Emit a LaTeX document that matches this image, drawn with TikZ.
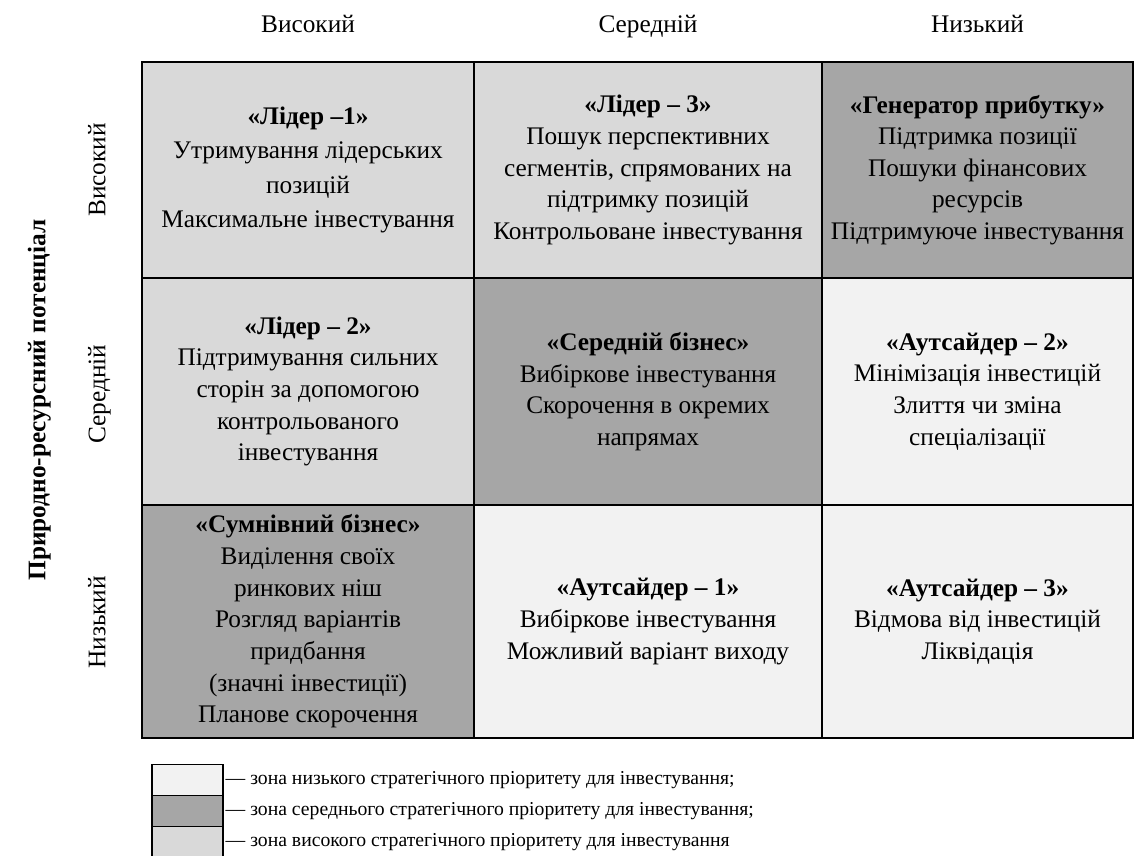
\documentclass[tikz,border=0pt]{standalone}
\usepackage{fontspec}
\setmainfont{Liberation Serif}
\usepackage{tikz}
\usetikzlibrary{positioning}
\definecolor{zonelow}{HTML}{F2F2F2}
\definecolor{zonemid}{HTML}{A6A6A6}
\definecolor{zonehigh}{HTML}{D9D9D9}
\tikzstyle{cell} =
  [rectangle, draw, line width=1.8pt, inner sep=0pt, outer sep=0pt,
   align=center, font=\fontsize{18}{22.5}\selectfont]
\tikzstyle{axis} =
  [font=\fontsize{18}{22.5}\selectfont, text height=2.2ex, text depth=0.5ex]
\tikzstyle{swatch} =
  [rectangle, draw, line width=1.2pt, inner sep=0pt, outer sep=0pt,
   minimum width=1.775cm, minimum height=0.775cm]
\tikzstyle{legtext} = [inner sep=0pt, font=\fontsize{14}{17}\selectfont]

\begin{document}
\begin{tikzpicture}
  \useasboundingbox (0,0) rectangle (28.4,21.4);

  % first row
  \node [cell, fill=zonehigh, minimum width=8.3cm, minimum height=5.4cm]
    (c11) at (7.7,17.15) {\textbf{«Лідер –1»}\\[2pt]Утримування лідерських\\[2pt]позицій\\[2pt]Максимальне інвестування};
  \node [cell, fill=zonehigh, right=0pt of c11, minimum width=8.7cm, minimum height=5.4cm]
    (c12) {\textbf{«Лідер – 3»}\\Пошук перспективних\\сегментів, спрямованих на\\підтримку позицій\\Контрольоване інвестування};
  \node [cell, fill=zonemid, right=0pt of c12, minimum width=7.775cm, minimum height=5.4cm]
    (c13) {\textbf{«Генератор прибутку»}\\Підтримка позиції\\Пошуки фінансових\\ресурсів\\Підтримуюче інвестування};

  % second row
  \node [cell, fill=zonehigh, below=0pt of c11, minimum width=8.3cm, minimum height=5.675cm]
    (c21) {\textbf{«Лідер – 2»}\\Підтримування сильних\\сторін за допомогою\\контрольованого\\інвестування};
  \node [cell, fill=zonemid, right=0pt of c21, minimum width=8.7cm, minimum height=5.675cm]
    (c22) {\textbf{«Середній бізнес»}\\Вибіркове інвестування\\Скорочення в окремих\\напрямах};
  \node [cell, fill=zonelow, right=0pt of c22, minimum width=7.775cm, minimum height=5.675cm]
    (c23) {\textbf{«Аутсайдер – 2»}\\Мінімізація інвестицій\\Злиття чи зміна\\спеціалізації};

  % third row
  \node [cell, fill=zonemid, below=0pt of c21, minimum width=8.3cm, minimum height=5.825cm]
    (c31) {\textbf{«Сумнівний бізнес»}\\Виділення своїх\\ринкових ніш\\Розгляд варіантів\\придбання\\(значні інвестиції)\\Планове скорочення};
  \node [cell, fill=zonelow, right=0pt of c31, minimum width=8.7cm, minimum height=5.825cm]
    (c32) {\textbf{«Аутсайдер – 1»}\\Вибіркове інвестування\\Можливий варіант виходу};
  \node [cell, fill=zonelow, right=0pt of c32, minimum width=7.775cm, minimum height=5.825cm]
    (c33) {\textbf{«Аутсайдер – 3»}\\Відмова від інвестицій\\Ліквідація};

  % column and row heads
  \node [axis, above of=c11, node distance=3.57cm] (h1) {Високий};
  \node [axis, above of=c12, node distance=3.57cm] (h2) {Середній};
  \node [axis, above of=c13, node distance=3.57cm] (h3) {Низький};
  \node [axis, rotate=90] (r1) at (2.5,17.15) {Високий};
  \node [axis, rotate=90] (r2) at (2.5,11.55) {Середній};
  \node [axis, rotate=90] (r3) at (2.5,5.84) {Низький};
  \node [axis, rotate=90, font=\fontsize{18}{22.5}\selectfont\bfseries]
    (t) at (1.0,11.4) {Природно-ресурсний потенціал};

  % legend
  \node [swatch, fill=zonelow] (l1) at (4.6875,1.9) {};
  \node [swatch, fill=zonemid, below=0pt of l1] (l2) {};
  \node [swatch, fill=zonehigh, below=0pt of l2] (l3) {};
  \node [legtext, right=0.06cm of l1] (g1) {— зона низького стратегічного пріоритету для інвестування;};
  \node [legtext, right=0.06cm of l2] (g2) {— зона середнього стратегічного пріоритету для інвестування;};
  \node [legtext, right=0.06cm of l3] (g3) {— зона високого стратегічного пріоритету для інвестування};
\end{tikzpicture}
\end{document}
